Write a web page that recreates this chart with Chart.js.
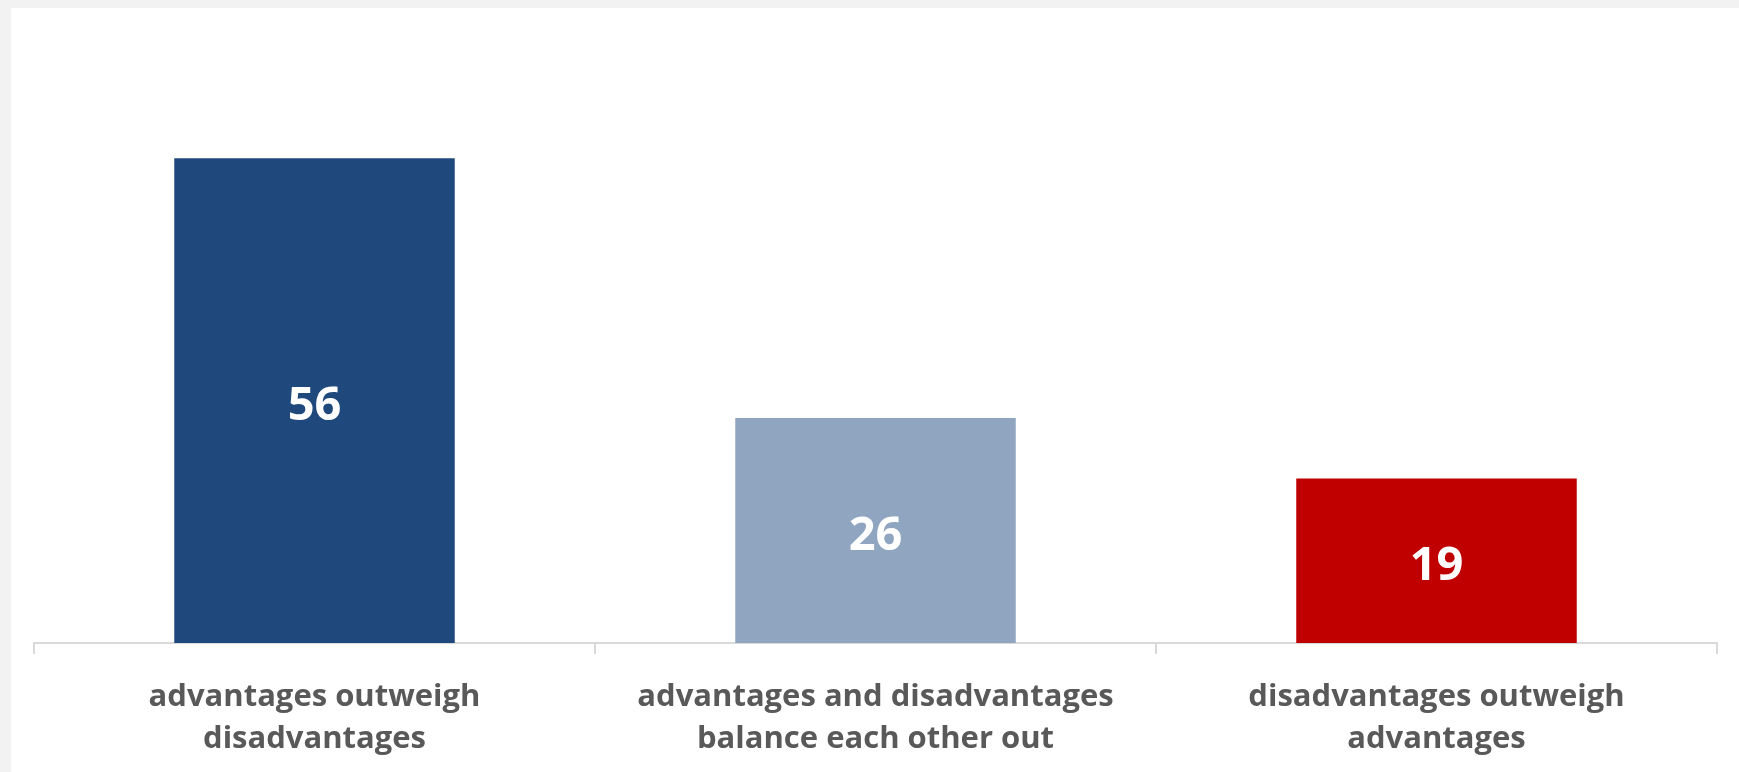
<!DOCTYPE html>
<html>
<head>
<meta charset="utf-8">
<script src="https://cdn.jsdelivr.net/npm/chart.js@4.4.1/dist/chart.umd.min.js"></script>
<style>
  html, body { margin: 0; padding: 0; background: #f2f2f2; width: 1739px; height: 772px; overflow: hidden; }
  #panel { position: absolute; left: 11px; top: 8px; right: 0; bottom: 0; background: #ffffff; }
  #wrap { position: absolute; left: 0; top: 0; width: 1739px; height: 772px; }
</style>
</head>
<body>
<div id="panel"></div>
<div id="wrap"><canvas id="c" width="1739" height="772"></canvas></div>
<script>
const categories = [
  ['advantages outweigh', 'disadvantages'],
  ['advantages and disadvantages', 'balance each other out'],
  ['disadvantages outweigh', 'advantages']
];
const values = [56, 26, 19];
const barColors = ['#1f497d', '#8fa5c0', '#c00000'];

const valueLabels = {
  id: 'valueLabels',
  afterDatasetsDraw(chart) {
    const ctx = chart.ctx;
    const meta = chart.getDatasetMeta(0);
    ctx.save();
    ctx.fillStyle = '#ffffff';
    ctx.font = 'bold 47px "Open Sans"';
    ctx.textAlign = 'center';
    ctx.textBaseline = 'middle';
    meta.data.forEach((bar, i) => {
      const v = chart.data.datasets[0].data[i];
      ctx.fillText(String(v), bar.x, (bar.y + bar.base) / 2 + 6);
    });
    ctx.restore();
  }
};

new Chart(document.getElementById('c'), {
  type: 'bar',
  data: {
    labels: categories,
    datasets: [{
      data: values,
      backgroundColor: barColors,
      borderWidth: 0,
      barPercentage: 0.5,
      categoryPercentage: 1.0
    }]
  },
  options: {
    responsive: false,
    animation: false,
    devicePixelRatio: 1,
    layout: { padding: { left: 34, right: 22, top: 37, bottom: 0 } },
    plugins: { legend: { display: false }, tooltip: { enabled: false } },
    scales: {
      x: {
        afterFit(scale) { scale.height = 772 - 643; },
        border: { display: true, color: '#d9d9d9', width: 2 },
        grid: { display: true, offset: true, drawOnChartArea: false, drawTicks: true, tickLength: 11, color: '#d9d9d9', lineWidth: 2 },
        ticks: {
          color: '#595959',
          font: { family: '"Open Sans"', size: 31, weight: 'bold', lineHeight: '42px' },
          padding: 22,
          maxRotation: 0,
          autoSkip: false
        }
      },
      y: {
        display: false,
        min: 0,
        max: 70
      }
    }
  },
  plugins: [valueLabels]
});
</script>
</body>
</html>
